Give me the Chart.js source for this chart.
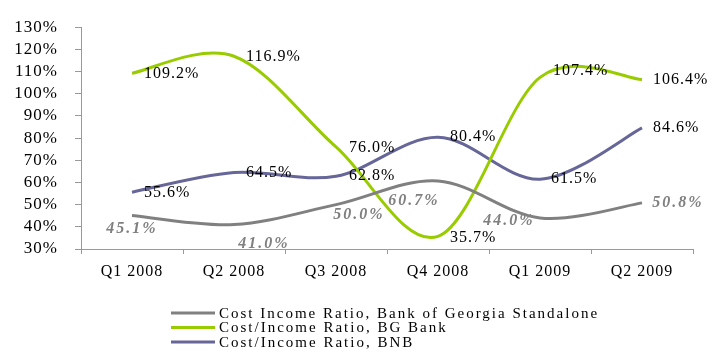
<!DOCTYPE html>
<html>
<head>
<meta charset="utf-8">
<script src="https://cdn.jsdelivr.net/npm/chart.js@4.4.1/dist/chart.umd.min.js"></script>
<style>
  html, body { margin: 0; padding: 0; background: #ffffff; }
  #wrap { width: 708px; height: 351px; }
</style>
</head>
<body>
<div id="wrap"><canvas id="c" width="708" height="351"></canvas></div>
<script>
// Quarterly cost/income ratios, %
const quarters = ['Q1 2008', 'Q2 2008', 'Q3 2008', 'Q4 2008', 'Q1 2009', 'Q2 2009'];
const bogStandalone = [45.1, 41.0, 50.0, 60.7, 44.0, 50.8];
const bgBank = [109.2, 116.9, 76.0, 35.7, 107.4, 106.4];
const bnb = [55.6, 64.5, 62.8, 80.4, 61.5, 84.6];
const seriesNames = [
  'Cost Income Ratio, Bank of Georgia Standalone',
  'Cost/Income Ratio, BG Bank',
  'Cost/Income Ratio, BNB'
];
const yMin = 30, yMax = 130, yStep = 10;

const SERIF = "'Liberation Serif', 'Times New Roman', serif";
const colors = ['#808080', '#99cc00', '#666699'];

// Value label placement per series: [dx, dy, align] relative to the point
const labelPlacement = [
  [[0, 13, 'center'], [30, 19, 'center'], [23, 10, 'center'], [-24, 20, 'center'], [-31, 3, 'center'], [36, 0, 'center']],
  [[12, 0, 'left'], [12, 1, 'left'], [13, 1, 'left'], [12, 1, 'left'], [13, -7, 'left'], [11, 0, 'left']],
  [[12, 1, 'left'], [12, 0, 'left'], [13, 0, 'left'], [12, 0, 'left'], [11, 0, 'left'], [11, 0, 'left']]
];
const labelStyle = [
  { font: 'italic bold 16px ' + SERIF, color: '#808080', spacing: '2px' },
  { font: '16px ' + SERIF, color: '#000000', spacing: '1px' },
  { font: '16px ' + SERIF, color: '#000000', spacing: '1px' }
];

// Uniform Catmull-Rom smoothing of the line segments
const smoothLines = {
  id: 'smoothLines',
  beforeDatasetDraw(chart, args) {
    const meta = args.meta;
    meta.dataset.updateControlPoints(chart.chartArea, 'x');
    const pts = meta.data;
    const n = pts.length;
    for (let k = 0; k < n; k++) {
      const prev = pts[Math.max(k - 1, 0)];
      const next = pts[Math.min(k + 1, n - 1)];
      const cur = pts[k];
      const tx = (next.x - prev.x) / 6;
      const ty = (next.y - prev.y) / 6;
      cur.cp1x = cur.x - tx; cur.cp1y = cur.y - ty;
      cur.cp2x = cur.x + tx; cur.cp2y = cur.y + ty;
    }
  }
};

const textSpacing = {
  id: 'textSpacing',
  beforeDraw(chart) { chart.ctx.letterSpacing = '1px'; }
};

const valueLabels = {
  id: 'valueLabels',
  afterDatasetsDraw(chart) {
    const ctx = chart.ctx;
    chart.data.datasets.forEach((ds, i) => {
      const meta = chart.getDatasetMeta(i);
      const st = labelStyle[i];
      ctx.save();
      ctx.font = st.font;
      ctx.fillStyle = st.color;
      ctx.letterSpacing = st.spacing;
      ctx.textBaseline = 'middle';
      meta.data.forEach((pt, j) => {
        const [dx, dy, align] = labelPlacement[i][j];
        ctx.textAlign = align;
        ctx.fillText(ds.data[j].toFixed(1) + '%', pt.x + dx, pt.y + dy);
      });
      ctx.restore();
    });
  }
};

const stackedLegend = {
  id: 'stackedLegend',
  afterDraw(chart) {
    const ctx = chart.ctx;
    const area = chart.chartArea;
    ctx.save();
    ctx.font = '15px ' + SERIF;
    ctx.letterSpacing = '2px';
    ctx.textBaseline = 'middle';
    ctx.textAlign = 'left';
    const names = chart.data.datasets.map(d => d.label);
    const maxW = Math.max(...names.map(t => ctx.measureText(t).width));
    const sample = 44, gap = 4;
    const x0 = Math.round((area.left + area.right) / 2 - (sample + gap + maxW) / 2) - 2;
    const y0 = area.bottom + 64;
    chart.data.datasets.forEach((ds, i) => {
      const y = y0 + i * 14.5;
      ctx.strokeStyle = ds.borderColor;
      ctx.lineWidth = 3;
      ctx.beginPath();
      ctx.moveTo(x0, y);
      ctx.lineTo(x0 + sample, y);
      ctx.stroke();
      ctx.fillStyle = '#000000';
      ctx.fillText(ds.label, x0 + sample + gap, y + 1);
    });
    ctx.restore();
  }
};

const series = [bogStandalone, bgBank, bnb];

new Chart(document.getElementById('c'), {
  type: 'line',
  data: {
    labels: quarters,
    datasets: series.map((vals, i) => ({
      label: seriesNames[i],
      data: vals,
      borderColor: colors[i],
      backgroundColor: colors[i],
      borderWidth: 3,
      pointRadius: 0,
      pointHoverRadius: 0,
      tension: 0.4,
      fill: false
    }))
  },
  options: {
    responsive: false,
    animation: false,
    devicePixelRatio: 1,
    layout: { padding: { top: 14, right: 15, left: 0, bottom: 0 } },
    plugins: {
      legend: { display: false },
      tooltip: { enabled: false }
    },
    scales: {
      x: {
        offset: true,
        grid: { offset: true, drawOnChartArea: false, tickLength: 5, color: '#999999' },
        border: { color: '#999999', width: 1 },
        ticks: { color: '#000000', font: { family: SERIF, size: 16 }, padding: 8, maxRotation: 0, autoSkip: false },
        afterFit(scale) { scale.height = 102; }
      },
      y: {
        min: yMin,
        max: yMax,
        grid: { drawOnChartArea: false, tickLength: 6, color: '#999999' },
        border: { color: '#999999', width: 1 },
        ticks: {
          stepSize: yStep,
          autoSkip: false,
          color: '#000000',
          font: { family: SERIF, size: 17 },
          padding: 17,
          callback: v => v + '%'
        },
        afterFit(scale) { scale.width = 81; }
      }
    }
  },
  plugins: [textSpacing, smoothLines, valueLabels, stackedLegend]
});
</script>
</body>
</html>
